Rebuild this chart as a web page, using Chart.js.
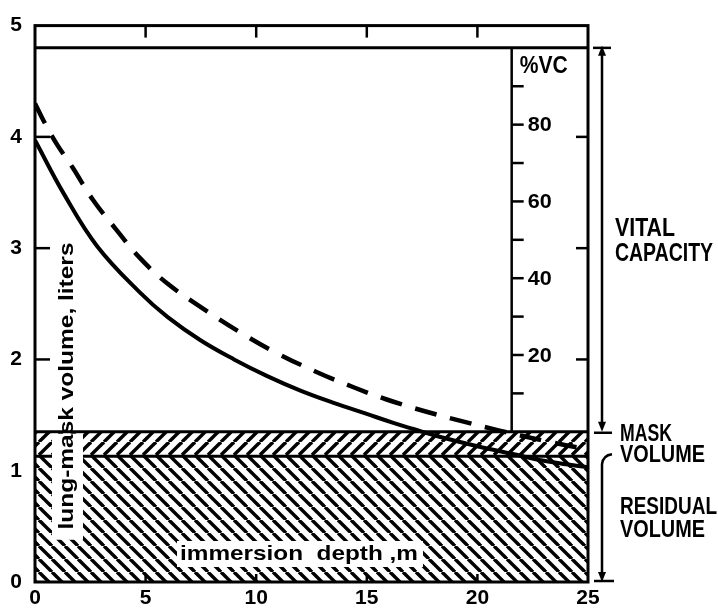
<!DOCTYPE html>
<html lang="en">
<head>
<meta charset="UTF-8" />
<title>Lung-mask volume vs immersion depth</title>
<script src="https://cdn.jsdelivr.net/npm/chart.js"></script>
<style>
  body { margin: 0; background: #fff; }
</style>
</head>
<body>
<canvas id="lungChart" width="718" height="611"></canvas>
<script>
// values: depth in m, volume in liters
const solidDepth = [0, 1.3, 2.8, 4.75, 6, 7.5, 9, 10.5, 12, 13.5, 15, 16.2, 17.1, 18.2, 20, 21.6, 23, 25];
const solidVolume = [3.97, 3.49, 3.02, 2.6, 2.38, 2.17, 2.0, 1.85, 1.72, 1.61, 1.51, 1.43, 1.375, 1.31, 1.22, 1.15, 1.09, 1.03];
const dashDepth = [0, 0.4, 1, 1.7, 2.6, 3.7, 4.75, 6, 7.8, 9.3, 10.9, 12.7, 14.4, 15.9, 17.7, 19.6, 21, 23, 25];
const dashVolume = [4.3, 4.14, 3.93, 3.725, 3.44, 3.16, 2.91, 2.68, 2.43, 2.24, 2.06, 1.89, 1.75, 1.64, 1.53, 1.43, 1.36, 1.27, 1.19];

const residualVolume = 1.13;   // top of residual volume
const maskTop = 1.35;          // residual + mask volume
const vcTop = 4.8;             // top of vital capacity
const vcAxisDepth = 21.55;     // where the %VC scale sits

const depthTicks = [0, 5, 10, 15, 20, 25];
const volumeTicks = [0, 1, 2, 3, 4, 5];
const vcTicks = [10, 20, 30, 40, 50, 60, 70, 80, 90];
const vcLabels = [20, 40, 60, 80];
const innerVolumeTicks = [2, 3, 4];
const innerDepthTicks = [5, 10, 15, 20];

const FONT = '"Liberation Sans", Arial, sans-serif';

function makeHatch(size, dir, width) {
  const c = document.createElement("canvas");
  c.width = size;
  c.height = size;
  const g = c.getContext("2d");
  g.strokeStyle = "#000";
  g.lineWidth = width;
  for (const o of [-size, 0, size]) {
    g.beginPath();
    if (dir === "back") {
      g.moveTo(o, 0);
      g.lineTo(o + size, size);
    } else {
      g.moveTo(o, size);
      g.lineTo(o + size, 0);
    }
    g.stroke();
  }
  return g.createPattern(c, "repeat");
}

// draw text stretched/squeezed to a given width (left edge, middle)
function fitText(ctx, str, x, y, width, size) {
  ctx.save();
  ctx.font = "bold " + size + "px " + FONT;
  const w = ctx.measureText(str).width;
  ctx.translate(x, y);
  ctx.scale(width / w, 1);
  ctx.textAlign = "left";
  ctx.textBaseline = "middle";
  ctx.fillStyle = "#000";
  ctx.fillText(str, 0, 0);
  ctx.restore();
}

function line(ctx, x1, y1, x2, y2) {
  ctx.beginPath();
  ctx.moveTo(x1, y1);
  ctx.lineTo(x2, y2);
  ctx.stroke();
}

function arrowHead(ctx, x, y, up) {
  const d = up ? -1 : 1;
  ctx.beginPath();
  ctx.moveTo(x, y + d * 6);
  ctx.lineTo(x - 4, y - d * 4);
  ctx.lineTo(x + 4, y - d * 4);
  ctx.closePath();
  ctx.fill();
}

const extras = {
  id: "extras",
  afterDatasetsDraw(chart) {
    const ctx = chart.ctx;
    const { left, right, top, bottom } = chart.chartArea;
    const xs = chart.scales.x;
    const ys = chart.scales.y;
    ctx.save();
    ctx.strokeStyle = "#000";
    ctx.fillStyle = "#000";

    // white boxes for the two axis titles sitting on the hatch
    ctx.fillStyle = "#fff";
    ctx.fillRect(left + 17, ys.getPixelForValue(maskTop) + 2, 31, 106);
    ctx.fillRect(left + 142, bottom - 41, 246, 26);
    ctx.fillStyle = "#000";

    // frame
    ctx.lineWidth = 3;
    ctx.strokeRect(left, top, right - left, bottom - top);
    const yTop = ys.getPixelForValue(vcTop);
    line(ctx, left, yTop, right, yTop);

    // inward ticks
    ctx.lineWidth = 2.5;
    innerVolumeTicks.forEach((v) => {
      const y = ys.getPixelForValue(v);
      line(ctx, left, y, left + 15, y);
      line(ctx, right, y, right - 12, y);
    });
    innerDepthTicks.forEach((d) => {
      const x = xs.getPixelForValue(d);
      line(ctx, x, top, x, top + 12);
      line(ctx, x, bottom, x, bottom - 8);
    });

    // %VC scale
    const vx = xs.getPixelForValue(vcAxisDepth);
    const vcPix = (p) => ys.getPixelForValue(maskTop + (p / 100) * (vcTop - maskTop));
    ctx.lineWidth = 2.5;
    line(ctx, vx, yTop, vx, ys.getPixelForValue(maskTop));
    vcTicks.forEach((p) => line(ctx, vx, vcPix(p), vx + 12, vcPix(p)));
    vcLabels.forEach((p) => fitText(ctx, String(p), vx + 16, vcPix(p) + 1, 24, 21));
    fitText(ctx, "%VC", vx + 8, 66, 48, 24);

    // axis titles
    fitText(ctx, "immersion  depth ,m", left + 145, bottom - 28, 238, 21);
    ctx.save();
    ctx.font = "bold 21px " + FONT;
    const label = "lung-mask volume, liters";
    const w = ctx.measureText(label).width;
    ctx.translate(left + 32, 386);
    ctx.rotate(-Math.PI / 2);
    ctx.scale(287 / w, 1);
    ctx.textAlign = "center";
    ctx.textBaseline = "middle";
    ctx.fillText(label, 0, 0);
    ctx.restore();

    // right-hand brackets
    const ax = right + 14;
    const yMask = ys.getPixelForValue(maskTop);
    const yRes = ys.getPixelForValue(residualVolume);
    const y0 = ys.getPixelForValue(0);
    ctx.lineWidth = 2.5;
    line(ctx, ax - 9, yTop, ax + 9, yTop);
    line(ctx, ax, yTop + 4, ax, yMask - 6);
    arrowHead(ctx, ax, yTop + 4, true);
    arrowHead(ctx, ax, yMask - 6, false);
    line(ctx, ax - 8, yMask + 1, ax + 10, yMask + 1);

    ctx.beginPath();
    ctx.moveTo(ax + 10, yRes - 2);
    ctx.quadraticCurveTo(ax + 1, yRes - 1, ax, yRes + 8);
    ctx.lineTo(ax, y0 - 6);
    ctx.stroke();
    arrowHead(ctx, ax, y0 - 6, false);
    line(ctx, ax - 8, y0 - 1, ax + 12, y0 - 1);

    fitText(ctx, "VITAL", right + 27, 229, 60, 25);
    fitText(ctx, "CAPACITY", right + 27, 254, 98, 25);
    fitText(ctx, "MASK", right + 32, 435, 52, 23);
    fitText(ctx, "VOLUME", right + 32, 456, 85, 23);
    fitText(ctx, "RESIDUAL", right + 32, 508, 97, 23);
    fitText(ctx, "VOLUME", right + 32, 531, 85, 23);
    ctx.restore();
  },
};

const toPoints = (xs, ys) => xs.map((x, i) => ({ x: x, y: ys[i] }));

const ctx = document.getElementById("lungChart").getContext("2d");
const chart = new Chart(ctx, {
  type: "line",
  data: {
    datasets: [
      {
        label: "residual volume",
        data: [{ x: 0, y: residualVolume }, { x: 25, y: residualVolume }],
        fill: "origin",
        backgroundColor: makeHatch(13, "back", 3.4),
        borderColor: "#000",
        borderWidth: 3,
        pointRadius: 0,
        order: 3,
      },
      {
        label: "mask volume",
        data: [{ x: 0, y: maskTop }, { x: 25, y: maskTop }],
        fill: "-1",
        backgroundColor: makeHatch(13, "fwd", 3.4),
        borderColor: "#000",
        borderWidth: 3,
        pointRadius: 0,
        order: 2,
      },
      {
        label: "solid",
        data: toPoints(solidDepth, solidVolume),
        borderColor: "#000",
        borderWidth: 4,
        pointRadius: 0,
        fill: false,
        tension: 0.4,
        order: 0,
      },
      {
        label: "dashed",
        data: toPoints(dashDepth, dashVolume),
        borderColor: "#000",
        borderWidth: 4.5,
        borderDash: [22, 14],
        pointRadius: 0,
        fill: false,
        tension: 0.4,
        order: 1,
      },
    ],
  },
  options: {
    responsive: false,
    animation: false,
    devicePixelRatio: 1,
    layout: { padding: { left: 0, top: 22, right: 130, bottom: 0 } },
    plugins: { legend: { display: false }, tooltip: { enabled: false } },
    scales: {
      x: {
        type: "linear",
        min: 0,
        max: 25,
        afterBuildTicks: (s) => { s.ticks = depthTicks.map((v) => ({ value: v })); },
        afterFit: (s) => { s.height = 29; },
        ticks: { color: "#000", padding: 4, maxRotation: 0, font: { family: FONT, size: 21, weight: "bold" } },
        grid: { display: false, drawTicks: false },
        border: { display: false },
      },
      y: {
        min: 0,
        max: 5,
        afterBuildTicks: (s) => { s.ticks = volumeTicks.map((v) => ({ value: v })); },
        afterFit: (s) => { s.width = 35; },
        ticks: { color: "#000", padding: 13, font: { family: FONT, size: 21, weight: "bold" } },
        grid: { display: false, drawTicks: false },
        border: { display: false },
      },
    },
  },
  plugins: [extras],
});
</script>
</body>
</html>
